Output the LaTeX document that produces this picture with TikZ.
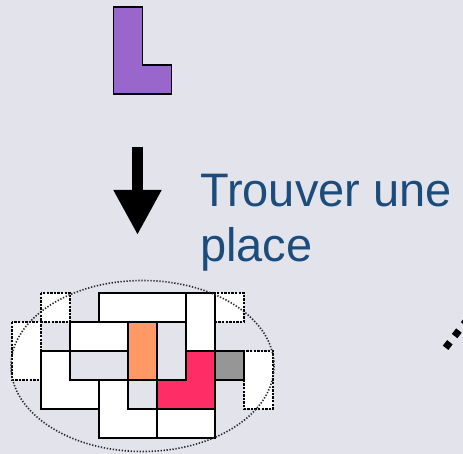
\documentclass[tikz,border=0pt]{standalone}
\usepackage{fontspec}
\setmainfont{Liberation Sans}
\usetikzlibrary{arrows.meta}
\definecolor{slidebg}{RGB}{227,227,236}
\definecolor{titleblue}{RGB}{28,76,124}
\definecolor{lpurple}{RGB}{153,102,204}
\definecolor{porange}{RGB}{255,153,102}
\definecolor{ppink}{RGB}{255,45,102}
\definecolor{pgray}{RGB}{150,150,150}

\begin{document}
\begin{tikzpicture}[
    x=1pt, y=-1pt,
    piece/.style={draw=black, line width=1.8pt, fill=white},
    ghost/.style={draw=black, line width=1.8pt, fill=white, dash pattern=on 2.4pt off 1.2pt},
    bigarrow/.style={-{Triangle[length=45pt, width=45pt]}, line width=11pt, black},
    caption/.style={font=\fontsize{47}{55}\selectfont, text=titleblue, align=left, inner sep=0pt}
  ]
  \useasboundingbox (0,0) rectangle (463,454);
  \clip (0,0) rectangle (463,454);
  \fill[slidebg] (0,0) rectangle (463,454);

  % the piece to place
  \begin{scope}[shift={(113.5,7)}, x=29pt, y=-29pt]
    \draw[piece, fill=lpurple] (0,0) -- (1,0) -- (1,2) -- (2,2) -- (2,3) -- (0,3) -- cycle;
  \end{scope}

  \coordinate (from) at (137.5,147);
  \coordinate (to) at (137.5,235);
  \draw[bigarrow] (from) -- (to);

  \node[caption, anchor=north west] (task) at (200,174) {Trouver une\\place};

  % the board
  \begin{scope}[shift={(12,293)}, x=29pt, y=-29pt]
    \draw[ghost] (1,0) rectangle (2,1);
    \draw[ghost] (0,1) rectangle (1,3);
    \draw[ghost] (7,0) rectangle (8,1);
    \draw[ghost] (8,2) rectangle (9,4);
    \draw[piece] (3,0) rectangle (6,1);
    \draw[piece] (6,0) rectangle (7,2);
    \draw[piece] (2,1) rectangle (4,2);
    \draw[piece, fill=porange] (4,1) rectangle (5,3);
    \draw[piece, fill=ppink] (6,2) -- (7,2) -- (7,4) -- (5,4) -- (5,3) -- (6,3) -- cycle;
    \draw[piece, fill=pgray] (7,2) rectangle (8,3);
    \draw[piece] (1,2) -- (2,2) -- (2,3) -- (3,3) -- (3,4) -- (1,4) -- cycle;
    \draw[piece] (3,3) -- (4,3) -- (4,4) -- (5,4) -- (5,5) -- (3,5) -- cycle;
    \draw[piece] (5,4) rectangle (7,5);
  \end{scope}
  \draw[black!85, line width=1.6pt, dash pattern=on 1.3pt off 1.7pt] (142.5,366) ellipse [x radius=131.5, y radius=85.5];

  % the next one, cut off
  \coordinate (dotsA) at (445.6,347.8);
  \coordinate (dotsB) at (472,313.5);
  \draw[line width=7pt, dash pattern=on 7pt off 7.8pt] (dotsA) -- (dotsB);
\end{tikzpicture}
\end{document}
